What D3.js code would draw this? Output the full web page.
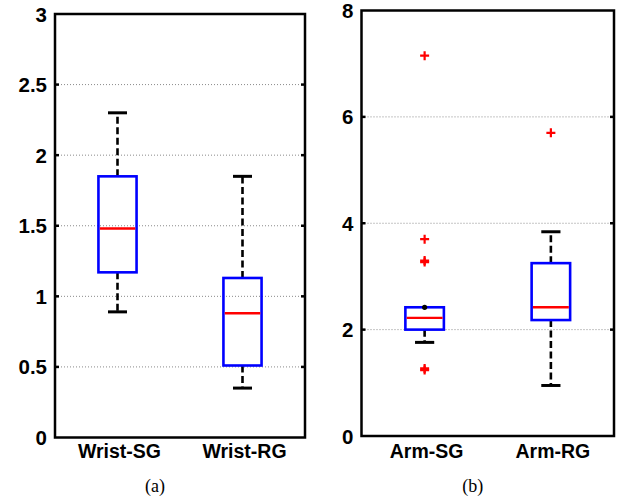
<!DOCTYPE html>
<html>
<head>
<meta charset="utf-8">
<script src="https://cdn.jsdelivr.net/npm/d3@7"></script>
<style>
  html, body { margin: 0; padding: 0; background: #fff; }
  svg { display: block; }
</style>
</head>
<body>
<svg id="chart" width="625" height="503"></svg>
<script>
// ---- data: box statistics [lower whisker, Q1, median, Q3, upper whisker] ----
const wristCategories = ["Wrist-SG", "Wrist-RG"];
const wristStats = [
  [0.89, 1.17, 1.48, 1.85, 2.30],
  [0.35, 0.51, 0.88, 1.13, 1.85]
];
const wristOutliers = [[], []];
const wristTicks = [0, 0.5, 1, 1.5, 2, 2.5, 3];

const armCategories = ["Arm-SG", "Arm-RG"];
const armStats = [
  [1.76, 2.00, 2.22, 2.42, 2.42],
  [0.95, 2.18, 2.42, 3.25, 3.84]
];
const armOutliers = [
  [7.15, 3.70, 3.30, 3.27, 1.27, 1.24],
  [5.70]
];
const armTicks = [0, 2, 4, 6, 8];

const captions = ["(a)", "(b)"];

// ---- layout ----
const svg = d3.select("#chart");

const panels = [
  { cats: wristCategories, stats: wristStats, outliers: wristOutliers, ticks: wristTicks,
    domain: [0, 3], x0: 55, x1: 305, y0: 14, y1: 437.5, caption: captions[0], capShift: -25 },
  { cats: armCategories, stats: armStats, outliers: armOutliers, ticks: armTicks,
    domain: [0, 8], x0: 361.5, x1: 614, y0: 10.5, y1: 436, caption: captions[1], capShift: -15 }
];

const tickFont = "'Liberation Sans', Arial, Helvetica, sans-serif";

panels.forEach(p => {
  const g = svg.append("g");

  const x = d3.scaleBand().domain(p.cats).range([p.x0, p.x1]).paddingInner(0).paddingOuter(0);
  const y = d3.scaleLinear().domain(p.domain).range([p.y1, p.y0]);

  const boxW = x.bandwidth() * 0.305;
  const capW = x.bandwidth() * 0.152;
  const cx = c => x(c) + x.bandwidth() / 2;

  // dotted horizontal grid
  const inner = p.ticks.filter(t => t > p.domain[0] && t < p.domain[1]);
  g.append("g").selectAll("line").data(inner).join("line")
    .attr("x1", p.x0).attr("x2", p.x1)
    .attr("y1", d => y(d)).attr("y2", d => y(d))
    .attr("stroke", "#8a8a8a").attr("stroke-width", 1)
    .attr("stroke-dasharray", "1,2");

  // inward tick marks on left and right edges
  const tk = g.append("g");
  tk.selectAll("line.l").data(inner).join("line").attr("class", "l")
    .attr("x1", p.x0).attr("x2", p.x0 + 4)
    .attr("y1", d => y(d)).attr("y2", d => y(d))
    .attr("stroke", "#000").attr("stroke-width", 2.5);
  tk.selectAll("line.r").data(inner).join("line").attr("class", "r")
    .attr("x1", p.x1 - 4).attr("x2", p.x1)
    .attr("y1", d => y(d)).attr("y2", d => y(d))
    .attr("stroke", "#000").attr("stroke-width", 2.5);

  // y tick labels
  g.append("g").selectAll("text").data(p.ticks).join("text")
    .attr("x", p.x0 - 8).attr("y", d => y(d))
    .attr("text-anchor", "end").attr("dominant-baseline", "central")
    .attr("font-family", tickFont).attr("font-weight", "bold").attr("font-size", 20.5)
    .attr("fill", "#000").text(d => d);

  // boxes
  p.cats.forEach((c, i) => {
    const [lo, q1, med, q3, hi] = p.stats[i];
    const bx = cx(c);
    const bg = g.append("g");

    // whiskers (dashed)
    bg.append("line").attr("x1", bx).attr("x2", bx).attr("y1", y(q3)).attr("y2", y(hi))
      .attr("stroke", "#000").attr("stroke-width", 2.6).attr("stroke-dasharray", "7,3.5");
    bg.append("line").attr("x1", bx).attr("x2", bx).attr("y1", y(q1)).attr("y2", y(lo))
      .attr("stroke", "#000").attr("stroke-width", 2.6).attr("stroke-dasharray", "7,3.5");

    // whisker caps
    if (hi > q3) {
      bg.append("line").attr("x1", bx - capW / 2).attr("x2", bx + capW / 2)
        .attr("y1", y(hi)).attr("y2", y(hi)).attr("stroke", "#000").attr("stroke-width", 3);
    }
    bg.append("line").attr("x1", bx - capW / 2).attr("x2", bx + capW / 2)
      .attr("y1", y(lo)).attr("y2", y(lo)).attr("stroke", "#000").attr("stroke-width", 3);

    // box
    bg.append("rect").attr("x", bx - boxW / 2).attr("width", boxW)
      .attr("y", y(q3)).attr("height", y(q1) - y(q3))
      .attr("fill", "none").attr("stroke", "#0000ff").attr("stroke-width", 2.6);

    // median
    bg.append("line").attr("x1", bx - boxW / 2 + 1.3).attr("x2", bx + boxW / 2 - 1.3)
      .attr("y1", y(med)).attr("y2", y(med))
      .attr("stroke", "#ff0000").attr("stroke-width", 2.4);

    // collapsed upper whisker shows as a dot on the box edge
    if (hi <= q3) {
      bg.append("circle").attr("cx", bx).attr("cy", y(hi)).attr("r", 2.6).attr("fill", "#000");
    }

    // outliers
    const half = 4.5;
    bg.selectAll("path.out").data(p.outliers[i]).join("path").attr("class", "out")
      .attr("d", d => `M${bx - half},${y(d)}H${bx + half}M${bx},${y(d) - half}V${y(d) + half}`)
      .attr("stroke", "#ff0000").attr("stroke-width", 2.2).attr("fill", "none");
  });

  // frame
  g.append("rect").attr("x", p.x0).attr("y", p.y0)
    .attr("width", p.x1 - p.x0).attr("height", p.y1 - p.y0)
    .attr("fill", "none").attr("stroke", "#000").attr("stroke-width", 2.5);

  // category labels
  g.append("g").selectAll("text").data(p.cats).join("text")
    .attr("x", d => cx(d) + 2).attr("y", 458)
    .attr("text-anchor", "middle")
    .attr("font-family", tickFont).attr("font-weight", "bold").attr("font-size", 19.5)
    .attr("fill", "#000").text(d => d);

  // panel caption
  g.append("text")
    .attr("x", (p.x0 + p.x1) / 2 + p.capShift).attr("y", 492)
    .attr("text-anchor", "middle")
    .attr("font-family", "'Liberation Serif', 'Times New Roman', serif").attr("font-size", 18)
    .attr("fill", "#000").text(p.caption);
});
</script>
</body>
</html>
